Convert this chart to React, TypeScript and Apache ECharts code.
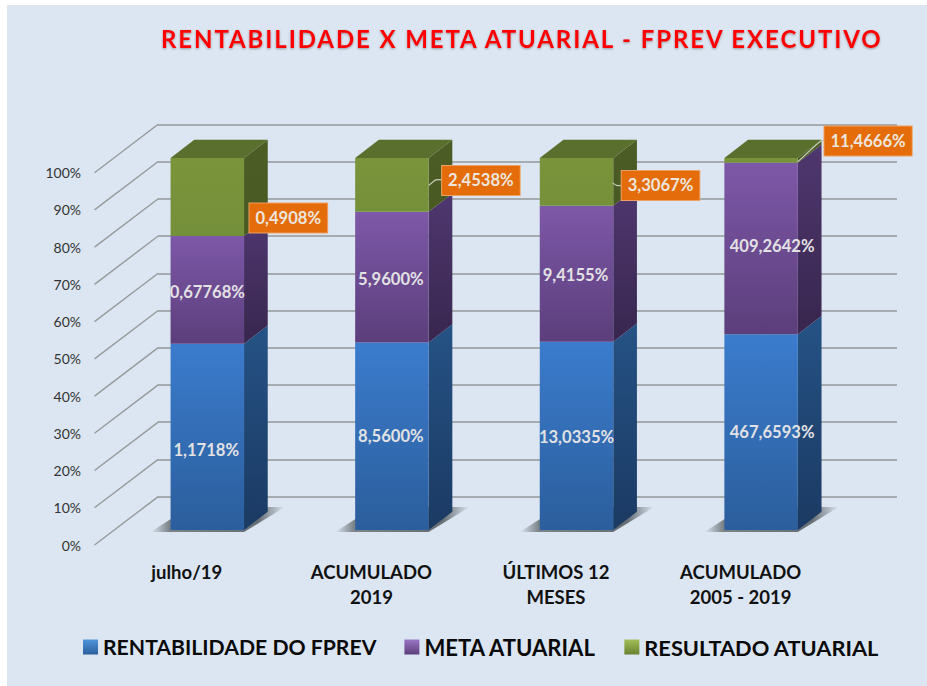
import React, { useEffect, useRef } from "react";
import * as echarts from "echarts";

const categorias = ["julho/19", "ACUMULADO\n2019", "ÚLTIMOS 12\nMESES", "ACUMULADO\n2005 - 2019"];
const rentabilidade = [1.1718, 8.56, 13.0335, 467.6593];
const metaAtuarial = [0.67768, 5.96, 9.4155, 409.2642];
const resultadoAtuarial = [0.4908, 2.4538, 3.3067, 11.4666];
const escala = [0, 10, 20, 30, 40, 50, 60, 70, 80, 90, 100];

const TITLE = "RENTABILIDADE X META ATUARIAL - FPREV EXECUTIVO";
const FONT = "Lato, Carlito, sans-serif";
const BG = "#dce6f2";
const DEPTH = [23.7, -18.2];
const WALL = [63.7, -48.4];
const BAR_RATIO = 0.398;

const nudgeBlue = [[-1, 13], [-1, 0], [0, 1], [11, 0]];
const nudgePurple = [[0, 2], [-1, 2], [-1, 1], [11, -2]];
const nudgeBox = [[81, 21], [89, -4.5], [84, 3.5], [107, -19.5]];
const leaders = [
  [],
  [[37, 0.5], [44, -5], [52, -5]],
  [[36, 1], [40, 3.5], [47, 3.5]],
  [[36.5, 1.5], [60, -19.5], [66, -19.5]],
];

const fmt = (v: number) => {
  const d = (String(v).split(".")[1] || "").length;
  return v.toFixed(Math.max(4, d)).replace(".", ",") + "%";
};
const totals = rentabilidade.map((v, i) => v + metaAtuarial[i] + resultadoAtuarial[i]);
const stackRows = (vals: number[], below: number[][]) =>
  vals.map((v, i) => {
    const start = below.reduce((s, a) => s + a[i], 0);
    return [i, (start / totals[i]) * 100, ((start + v) / totals[i]) * 100, v];
  });

const vgrad = (a: string, b: string) =>
  new echarts.graphic.LinearGradient(0, 0, 0, 1, [
    { offset: 0, color: a },
    { offset: 1, color: b },
  ]);

type Pal = { front: [string, string]; side: [string, string]; top?: string; legend: [string, string] };
const palBlue: Pal = { front: ["#3b7ccd", "#2b5e9c"], side: ["#255285", "#1b3a63"], legend: ["#4f95dc", "#2b5e9c"] };
const palPurple: Pal = { front: ["#7d58a8", "#5c3e7b"], side: ["#4f376f", "#38264e"], legend: ["#9a76c6", "#5c3e7b"] };
const palGreen: Pal = { front: ["#7a943b", "#75903a"], side: ["#4c5e25", "#485922"], top: "#5a6f2e", legend: ["#a3bf5a", "#68812f"] };

function barSeries(name: string, rows: number[][], pal: Pal, labelMode: "inner" | "box", nudge: number[][]) {
  return {
    type: "custom",
    name,
    xAxisIndex: 2,
    yAxisIndex: 2,
    clip: false,
    silent: true,
    data: rows,
    encode: { x: 0, y: [1, 2] },
    itemStyle: { color: vgrad(pal.legend[0], pal.legend[1]) },
    renderItem: (_p: any, api: any) => {
      const i = api.value(0);
      const a = api.coord([i, api.value(1)]);
      const b = api.coord([i, api.value(2)]);
      const w = api.size([1, 0])[0] * BAR_RATIO;
      const x0 = a[0] - w / 2;
      const x1 = a[0] + w / 2;
      const [dx, dy] = DEPTH;
      const children: any[] = [
        {
          type: "polygon",
          shape: { points: [[x1, a[1]], [x1 + dx, a[1] + dy], [x1 + dx, b[1] + dy], [x1, b[1]]] },
          style: { fill: vgrad(pal.side[0], pal.side[1]) },
        },
        {
          type: "rect",
          shape: { x: x0, y: b[1], width: w, height: a[1] - b[1] },
          style: { fill: vgrad(pal.front[0], pal.front[1]) },
        },
      ];
      if (pal.top) {
        children.push({
          type: "polygon",
          shape: { points: [[x0, b[1]], [x1, b[1]], [x1 + dx, b[1] + dy], [x0 + dx, b[1] + dy]] },
          style: { fill: pal.top },
        });
      }
      const n = nudge[i];
      const cy = (a[1] + b[1]) / 2;
      const text = fmt(api.value(3));
      if (labelMode === "inner") {
        children.push({
          type: "text",
          z2: 20,
          style: {
            text,
            x: a[0] + n[0],
            y: cy + n[1],
            align: "center",
            verticalAlign: "middle",
            fill: "#e2e2e4",
            font: `bold 16.6px ${FONT}`,
          },
        });
      } else {
        const pts = leaders[i].map((p) => [a[0] + p[0], cy + p[1]]);
        if (pts.length) {
          children.push({
            type: "polyline",
            z2: 19,
            shape: { points: pts, smooth: 0.2 },
            style: { fill: "none", stroke: "#c9cdb8", lineWidth: 1.2 },
          });
        }
        children.push({
          type: "text",
          z2: 20,
          style: {
            text,
            x: a[0] + n[0],
            y: cy + n[1],
            align: "center",
            verticalAlign: "middle",
            fill: "#ece6df",
            font: `bold 16.6px ${FONT}`,
            backgroundColor: "#e46c0a",
            borderColor: "#eda062",
            borderWidth: 1,
            padding: [6, 6, 6, 6],
          },
        });
      }
      return { type: "group", children };
    },
  };
}

const shadowSeries = {
  type: "custom",
  name: "sombra",
  xAxisIndex: 2,
  yAxisIndex: 2,
  clip: false,
  silent: true,
  data: categorias.map((_, i) => [i, 0]),
  encode: { x: 0, y: 1 },
  renderItem: (_p: any, api: any) => {
    const a = api.coord([api.value(0), api.value(1)]);
    const w = api.size([1, 0])[0] * BAR_RATIO;
    const x0 = a[0] - w / 2;
    const x1 = a[0] + w / 2;
    const fill = new echarts.graphic.LinearGradient(0, 0, 1, 0, [
      { offset: 0, color: BG },
      { offset: 0.14, color: "#7b8388" },
      { offset: 0.8, color: "#666e73" },
      { offset: 1, color: BG },
    ]);
    return {
      type: "polygon",
      shape: {
        points: [[x0 - 20, a[1] + 2], [x1, a[1] + 2], [x1 + 41, a[1] - 23], [x0 + 19, a[1] - 23]],
      },
      style: { fill },
    };
  },
};

const wallSeries = {
  type: "custom",
  name: "parede",
  xAxisIndex: 0,
  yAxisIndex: 0,
  clip: false,
  silent: true,
  data: escala.map((v) => [0, v]),
  encode: { x: 0, y: 1 },
  renderItem: (_p: any, api: any) => {
    const c = api.coord([api.value(0), api.value(1)]);
    const x = c[0] - api.size([1, 0])[0] / 2;
    return {
      type: "line",
      shape: { x1: x, y1: c[1], x2: x + WALL[0], y2: c[1] + WALL[1] },
      style: { stroke: "#969a9c", lineWidth: 1.4 },
    };
  },
};

export default function App() {
  const ref = useRef<HTMLDivElement>(null);
  useEffect(() => {
    const chart = echarts.init(ref.current!, undefined, { renderer: "svg" });
    const blueRows = stackRows(rentabilidade, []);
    const purpleRows = stackRows(metaAtuarial, [rentabilidade]);
    const greenRows = stackRows(resultadoAtuarial, [rentabilidade, metaAtuarial]);
    const names = ["RENTABILIDADE DO FPREV", "META ATUARIAL", "RESULTADO ATUARIAL"];
    const legendStyleKeys = ["r", "m", "s"];
    const legendText = (size: number) => ({
      color: "#0a0a0a",
      fontFamily: FONT,
      fontWeight: "bold",
      fontSize: size,
    });
    const hiddenX = (gridIndex: number) => ({
      type: "category",
      gridIndex,
      data: categorias,
      show: false,
    });
    chart.setOption({
      animation: false,
      backgroundColor: BG,
      textStyle: { fontFamily: FONT },
      title: {
        text: TITLE,
        left: 156,
        top: 21,
        textStyle: {
          color: "#ff0000",
          fontFamily: FONT,
          fontWeight: "bold",
          fontSize: 24,
          textShadowColor: "rgba(60,60,60,0.45)",
          textShadowBlur: 2,
          textShadowOffsetY: 1,
        },
      },
      legend: {
        data: names,
        left: 83,
        top: 636,
        padding: 0,
        icon: "rect",
        itemWidth: 15,
        itemHeight: 15,
        itemGap: 28,
        selectedMode: false,
        formatter: (name: string) => `{${legendStyleKeys[names.indexOf(name)]}|${name}}`,
        textStyle: {
          ...legendText(21.2),
          rich: { r: legendText(21.2), m: legendText(22.1), s: legendText(21.8) },
        },
      },
      grid: [
        { left: 94.5, top: 172.7, width: 738.4, height: 372.3 },
        { left: 158, top: 124.3, width: 739, height: 372.4 },
        { left: 115, top: 158, width: 738.4, height: 372 },
      ],
      xAxis: [
        {
          type: "category",
          gridIndex: 0,
          data: categorias,
          axisLine: { show: false },
          axisTick: { show: false },
          axisLabel: {
            interval: 0,
            margin: 14,
            color: "#111111",
            fontFamily: FONT,
            fontWeight: "bold",
            fontSize: 18.5,
            lineHeight: 25.5,
          },
        },
        hiddenX(1),
        hiddenX(2),
      ],
      yAxis: [
        {
          type: "value",
          gridIndex: 0,
          min: 0,
          max: 100,
          interval: 10,
          axisLine: { show: false },
          axisTick: { show: false },
          splitLine: { show: false },
          axisLabel: { formatter: "{value}%", margin: 13.5, color: "#333", fontFamily: FONT, fontSize: 14 },
        },
        {
          type: "value",
          gridIndex: 1,
          min: 0,
          max: 100,
          interval: 10,
          axisLine: { show: false },
          axisTick: { show: false },
          axisLabel: { show: false },
          splitLine: { show: true, lineStyle: { color: "#939799", width: 1.6 } },
        },
        { type: "value", gridIndex: 2, min: 0, max: 100, show: false, splitLine: { show: false } },
      ],
      graphic: [
        { type: "rect", z: 100, shape: { x: 0, y: 0, width: 7, height: 686 }, style: { fill: "#ffffff" } },
        { type: "rect", z: 100, shape: { x: 0, y: 0, width: 927, height: 5 }, style: { fill: "#ffffff" } },
      ],
      series: [
        wallSeries,
        shadowSeries,
        barSeries(names[0], blueRows, palBlue, "inner", nudgeBlue),
        barSeries(names[1], purpleRows, palPurple, "inner", nudgePurple),
        barSeries(names[2], greenRows, palGreen, "box", nudgeBox),
      ],
    });
    return () => chart.dispose();
  }, []);
  return (
    <div style={{ position: "absolute", left: 0, top: 0, width: 927, height: 686 }}>
      <style>{`svg text[fill="#ff0000"], svg text[style*="24px"] { letter-spacing: 1.9px; }`}</style>
      <div ref={ref} style={{ width: 927, height: 686 }} />
    </div>
  );
}
